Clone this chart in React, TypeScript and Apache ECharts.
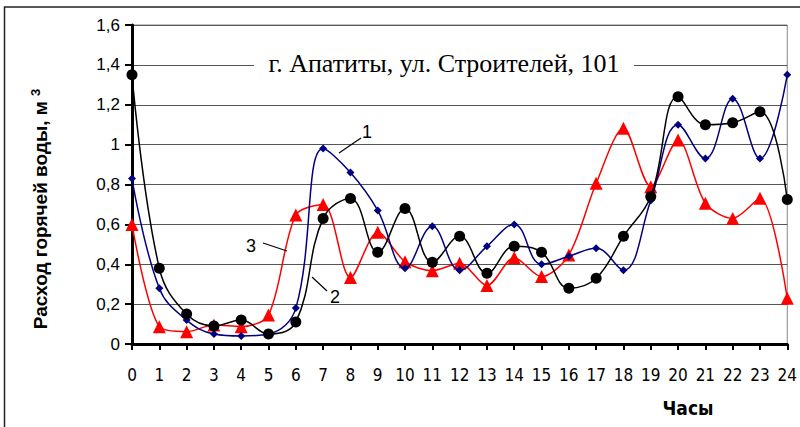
import React, { useEffect, useRef } from "react";
import * as echarts from "echarts";

const hours = [0, 1, 2, 3, 4, 5, 6, 7, 8, 9, 10, 11, 12, 13, 14, 15, 16, 17, 18, 19, 20, 21, 22, 23, 24];
const series1 = [0.83, 0.28, 0.12, 0.05, 0.04, 0.05, 0.18, 0.98, 0.86, 0.67, 0.38, 0.59, 0.37, 0.49, 0.6, 0.4, 0.44, 0.48, 0.37, 0.72, 1.1, 0.93, 1.23, 0.93, 1.35];
const series2 = [1.35, 0.38, 0.15, 0.09, 0.12, 0.05, 0.11, 0.63, 0.73, 0.46, 0.68, 0.41, 0.54, 0.355, 0.49, 0.46, 0.28, 0.33, 0.54, 0.74, 1.24, 1.1, 1.11, 1.165, 0.725];
const series3 = [0.6, 0.087, 0.062, 0.095, 0.087, 0.145, 0.647, 0.7, 0.333, 0.56, 0.413, 0.368, 0.405, 0.293, 0.433, 0.338, 0.446, 0.806, 1.082, 0.789, 1.023, 0.706, 0.63, 0.731, 0.229];
const seriesNames = ["1", "2", "3"];
const chartTitle = "г. Апатиты, ул. Строителей, 101";
const yTitle = "Расход горячей воды, м";
const xTitle = "Часы";

const sans = "'Liberation Sans', Arial, sans-serif";
const narrow = "'Liberation Sans Narrow', 'Arial Narrow', 'DejaVu Sans Condensed', sans-serif";

export default function App() {
  const ref = useRef<HTMLDivElement>(null);
  useEffect(() => {
    if (!ref.current) return;
    const chart = echarts.init(ref.current, null, { renderer: "svg" });
    const pts = (arr: number[]) => hours.map((h, i) => [h, arr[i]]);
    chart.setOption({
      animation: false,
      backgroundColor: "#fff",
      grid: { left: 132, right: 8, top: 25, bottom: 83, show: true, borderColor: "#888", borderWidth: 1 },
      xAxis: {
        type: "value",
        min: 0,
        max: 24,
        interval: 1,
        axisLine: { onZero: false, lineStyle: { color: "#000", width: 3 } },
        axisTick: { show: true, length: 6, lineStyle: { color: "#000", width: 2 } },
        axisLabel: { color: "#000", fontSize: 17, fontFamily: narrow, margin: 22 },
        splitLine: { show: false },
      },
      yAxis: {
        type: "value",
        min: 0,
        max: 1.6,
        interval: 0.2,
        axisLine: { show: true, lineStyle: { color: "#000", width: 3 } },
        axisTick: { show: true, length: 7, lineStyle: { color: "#000", width: 2 } },
        axisLabel: {
          color: "#000",
          fontSize: 17,
          fontFamily: sans,
          margin: 12,
          formatter: (v: number) => String(Math.round(v * 10) / 10).replace(".", ","),
        },
        splitLine: { show: true, lineStyle: { color: "#555", width: 1 } },
      },
      series: [
        {
          name: seriesNames[0],
          type: "line",
          data: pts(series1),
          smooth: 0.4,
          symbol: "diamond",
          symbolSize: 8,
          lineStyle: { color: "#000080", width: 1.5 },
          itemStyle: { color: "#000080" },
          z: 3,
        },
        {
          name: seriesNames[1],
          type: "line",
          data: pts(series2),
          smooth: 0.4,
          symbol: "circle",
          symbolSize: 11,
          lineStyle: { color: "#000", width: 1.5 },
          itemStyle: { color: "#000" },
          z: 4,
        },
        {
          name: seriesNames[2],
          type: "line",
          data: pts(series3),
          smooth: 0.3,
          symbol: "triangle",
          symbolSize: 13,
          lineStyle: { color: "#ff0000", width: 1.5 },
          itemStyle: { color: "#ff0000" },
          z: 2,
        },
      ],
      graphic: [
        {
          type: "rect",
          shape: { x: 4.5, y: 7, width: 900, height: 600 },
          style: { fill: "none", stroke: "#222", lineWidth: 1.5 },
          silent: true,
        },
        {
          type: "rect",
          shape: { x: 254, y: 46, width: 380, height: 34 },
          style: { fill: "#fff" },
          z: 10,
        },
        {
          type: "text",
          x: 444,
          y: 63,
          z: 11,
          style: {
            text: chartTitle,
            fill: "#000",
            font: "26px 'Liberation Serif', 'Times New Roman', serif",
            align: "center",
            verticalAlign: "middle",
          },
        },
        {
          type: "text",
          x: 40,
          y: 209,
          rotation: Math.PI / 2,
          style: {
            text: "{m|" + yTitle + " }{s|3}",
            align: "center",
            verticalAlign: "middle",
            rich: {
              m: { fontSize: 19, fontWeight: "bold", fontFamily: sans, fill: "#000" },
              s: { fontSize: 13, fontWeight: "bold", fontFamily: sans, fill: "#000", verticalAlign: "top", padding: [0, 0, 9, 0] },
            },
          },
        },
        {
          type: "text",
          x: 688,
          y: 408,
          style: {
            text: xTitle,
            fill: "#000",
            font: "bold 19px " + narrow,
            align: "center",
            verticalAlign: "middle",
          },
        },
        { type: "line", shape: { x1: 339, y1: 153, x2: 361, y2: 138 }, style: { stroke: "#000", lineWidth: 1.2 }, z: 10 },
        { type: "text", x: 367, y: 132, z: 10, style: { text: "1", font: "18px " + sans, fill: "#000", align: "center", verticalAlign: "middle" } },
        { type: "line", shape: { x1: 312, y1: 277, x2: 327, y2: 291 }, style: { stroke: "#000", lineWidth: 1.2 }, z: 10 },
        { type: "text", x: 335, y: 297, z: 10, style: { text: "2", font: "18px " + sans, fill: "#000", align: "center", verticalAlign: "middle" } },
        { type: "line", shape: { x1: 263, y1: 243, x2: 287, y2: 251 }, style: { stroke: "#000", lineWidth: 1.2 }, z: 10 },
        { type: "text", x: 251, y: 246, z: 10, style: { text: "3", font: "18px " + sans, fill: "#000", align: "center", verticalAlign: "middle" } },
      ],
    });
    return () => chart.dispose();
  }, []);
  return <div ref={ref} style={{ width: 800, height: 427, position: "absolute", left: 0, top: 0 }} />;
}
